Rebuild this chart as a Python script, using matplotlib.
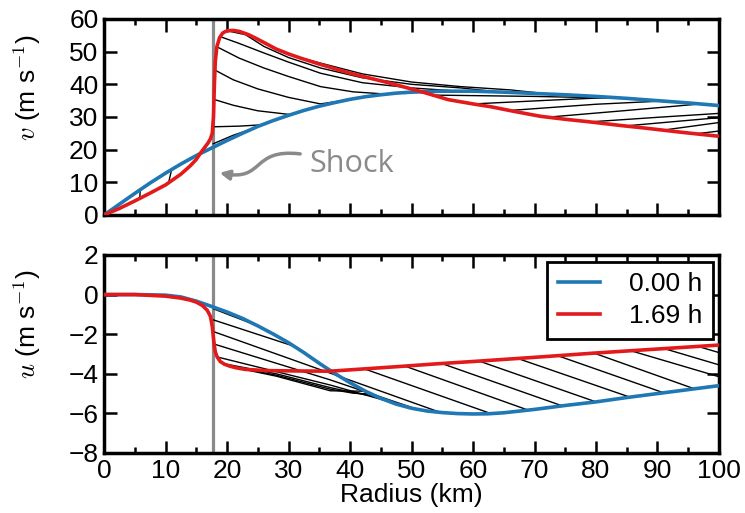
import matplotlib
matplotlib.use('Agg')
import matplotlib.pyplot as plt
from matplotlib.path import Path
from matplotlib.patches import FancyArrowPatch
from matplotlib.ticker import MultipleLocator

plt.rcParams['font.family'] = ['Liberation Sans', 'DejaVu Sans']
plt.rcParams['mathtext.fontset'] = 'cm'

# ---- data ----
# top panel: tangential wind v
r_v0 = [0, 2.5, 5, 7.5, 10, 12.5, 15, 17.5, 20, 22.5, 25, 27.5, 30, 32.5, 35, 37.5, 40,
        42.5, 45, 47.5, 50, 55, 60, 65, 70, 75, 80, 85, 90, 95, 100]
v0 = [0, 3.3, 6.6, 9.8, 12.8, 15.6, 18.2, 20.5, 22.8, 25.0, 27.1, 28.9, 30.5, 32.0, 33.3,
      34.4, 35.4, 36.2, 36.8, 37.3, 37.6, 37.9, 37.9, 37.6, 37.2, 36.8, 36.3, 35.7, 35.0, 34.3, 33.5]

r_v1 = [0, 2.5, 5, 7.5, 10, 12.5, 14, 15, 15.6, 16.3, 16.9, 17.3, 17.6, 17.8, 17.95, 18.1,
        18.35, 18.8, 19.3, 20, 21, 22, 23.5, 25, 26.5, 28, 30, 32, 35, 40, 46, 51.5, 56, 60,
        63, 67, 71, 75, 79, 84, 88, 94, 100]
v1 = [0, 2.0, 4.3, 6.7, 9.2, 12.5, 15.0, 17.0, 18.7, 20.5, 22.0, 23.3, 25.0, 30.0, 40.0, 47.0,
      51.5, 54.3, 55.7, 56.4, 56.5, 56.2, 55.2, 53.8, 52.3, 50.8, 49.3, 48.0, 46.2, 43.4, 40.6,
      37.8, 35.3, 34.0, 33.1, 31.6, 30.2, 29.3, 28.5, 27.4, 26.6, 25.3, 24.1]

# intermediate paths between the two times (r, v)
top_paths = [
    [(5.9, 7.7), (5.8, 5.0)],
    [(11.0, 13.9), (10.5, 9.9)],
    [(17.75, 21.8), (21.0, 24.4), (23.5, 26.0)],
    [(17.75, 27.0), (22.0, 27.2), (25.6, 27.6)],
    [(17.85, 35.4), (21.0, 33.6), (25.0, 31.9), (30.5, 30.7)],
    [(18.0, 44.4), (21.0, 41.4), (25.0, 38.6), (30.0, 36.0), (35.2, 34.0), (40.5, 35.5)],
    [(18.35, 51.5), (22.0, 48.0), (26.0, 45.0), (30.0, 42.4), (35.2, 39.3), (40.5, 37.7), (46.0, 37.0)],
    [(18.9, 54.6), (22.0, 52.5), (26.0, 49.6), (30.0, 46.8), (35.2, 43.4), (42.0, 40.5),
     (50.0, 38.9), (57.0, 38.0)],
    [(20.0, 56.4), (23.0, 55.2), (26.0, 51.6), (30.0, 48.2), (35.2, 45.0), (42.0, 42.0),
     (50.0, 40.0), (58.0, 38.9), (64.0, 37.7)],
    [(21.2, 56.5), (24.0, 54.8), (27.0, 51.6), (30.0, 49.1), (35.2, 46.5), (42.0, 43.2),
     (50.0, 40.7), (58.0, 39.3), (66.0, 38.3), (72.0, 37.1)],
    [(53.5, 36.7), (70.0, 36.3), (85.0, 35.7)],
    [(60.0, 34.0), (72.0, 35.1), (82.5, 36.0)],
    [(66.0, 32.0), (80.0, 33.9), (91.0, 34.9)],
    [(72.5, 30.0), (85.0, 32.0), (97.0, 34.0)],
    [(79.0, 28.5), (90.0, 29.9), (100.0, 31.1)],
    [(85.0, 27.3), (100.0, 29.8)],
    [(91.0, 26.0), (100.0, 28.3)],
    [(96.5, 24.9), (100.0, 25.7)],
]

# bottom panel: radial wind u
r_u0 = [0, 5, 10, 12.5, 15, 17.5, 20, 22.5, 25, 27.5, 30, 32.5, 35, 37.5, 40, 42.5, 45,
        47.5, 50, 52.5, 55, 57.5, 60, 62.5, 65, 70, 75, 80, 85, 90, 95, 100]
u0 = [0, 0, -0.03, -0.12, -0.33, -0.6, -0.88, -1.2, -1.58, -1.99, -2.43, -2.93, -3.47, -3.98,
      -4.45, -4.88, -5.24, -5.53, -5.74, -5.88, -5.96, -6.01, -6.03, -6.02, -5.97, -5.8, -5.6,
      -5.42, -5.2, -5.0, -4.8, -4.6]

r_u1 = [0, 5, 10, 12.5, 14, 15, 16, 16.8, 17.3, 17.6, 17.8, 17.95, 18.1, 18.4, 18.9, 19.6,
        20.5, 21.5, 23, 26.5, 32, 36.8, 42, 47.7, 54, 60, 70, 80, 90, 100]
u1 = [0, 0, -0.08, -0.18, -0.28, -0.38, -0.55, -0.8, -1.1, -1.6, -2.2, -2.6, -2.9, -3.15,
      -3.38, -3.52, -3.62, -3.7, -3.78, -3.84, -3.86, -3.87, -3.76, -3.64, -3.5, -3.38, -3.17,
      -2.95, -2.75, -2.55]

bot_paths = [
    [(17.8, -0.72), (25.0, -1.58)],
    [(17.8, -1.28), (30.8, -2.6)],
    [(17.8, -1.87), (36.8, -3.97), (54.5, -5.93)],
    [(17.9, -2.5), (36.8, -4.31), (50.5, -5.75)],
    [(18.4, -3.15), (36.8, -4.57), (46.5, -5.42)],
    [(19.3, -3.48), (28.0, -4.0), (36.8, -4.7), (41.0, -4.98), (44.0, -5.14)],
    [(20.5, -3.62), (28.0, -4.07), (36.8, -4.78), (40.5, -4.98), (43.2, -5.02)],
    [(22.0, -3.73), (28.0, -4.12), (36.8, -4.86), (42.5, -4.88)],
    [(42.5, -3.77), (63.0, -6.02)],
    [(49.0, -3.62), (69.0, -5.84)],
    [(55.0, -3.49), (74.5, -5.62)],
    [(61.0, -3.36), (80.0, -5.42)],
    [(67.3, -3.23), (85.5, -5.18)],
    [(73.8, -3.09), (91.0, -4.96)],
    [(79.7, -2.96), (96.0, -4.76)],
    [(85.7, -2.84), (100.0, -4.15)],
    [(91.1, -2.73), (100.0, -3.55)],
    [(96.6, -2.62), (100.0, -2.93)],
]

r_shock = 17.7
labels = ['0.00 h', '1.69 h']
blue = '#1f78b4'
red = '#e31a1c'
grey = '#8a8a8a'

fig = plt.figure(figsize=(7.45, 5.13), dpi=100)
ax1 = fig.add_axes([0.1396, 0.5809, 0.8255, 0.3821])
ax2 = fig.add_axes([0.1396, 0.117, 0.8255, 0.386])

for ax in (ax1, ax2):
    ax.axvline(r_shock, color=grey, lw=2.3, zorder=1)
    ax.set_xlim(0, 100)
    ax.xaxis.set_major_locator(MultipleLocator(10))
    ax.xaxis.set_minor_locator(MultipleLocator(5))
    ax.tick_params(which='both', direction='in', top=True, right=True, width=1.8,
                   labelsize=19, pad=4)
    ax.tick_params(which='major', length=9)
    ax.tick_params(which='minor', length=4.5)
    for s in ax.spines.values():
        s.set_linewidth(2.5)

# top panel
for p in top_paths:
    ax1.plot([q[0] for q in p], [q[1] for q in p], color='k', lw=1.0, zorder=2)
ax1.plot(r_v0, v0, color=blue, lw=2.6, zorder=3)
ax1.plot(r_v1, v1, color=red, lw=2.6, zorder=4)
ax1.set_ylim(0, 60)
ax1.yaxis.set_major_locator(MultipleLocator(10))
ax1.tick_params(labelbottom=False)
ax1.set_ylabel(r'$v$ (m s$^{\mathsf{-1}}$)', fontsize=19)
ax1.yaxis.set_label_coords(-0.1, 0.65)

ax1.text(33.4, 13.2, 'Shock', color=grey, fontsize=22, family=['Open Sans', 'DejaVu Sans'],
         ha='left', va='baseline')
verts = [(31.9, 18.7), (23.8, 20.5), (26.2, 10.1), (18.8, 12.9)]
codes = [Path.MOVETO, Path.CURVE4, Path.CURVE4, Path.CURVE4]
arr = FancyArrowPatch(path=Path(verts, codes), arrowstyle='-|>', mutation_scale=14,
                      color=grey, lw=2.5, zorder=5)
ax1.add_patch(arr)

# bottom panel
for p in bot_paths:
    ax2.plot([q[0] for q in p], [q[1] for q in p], color='k', lw=1.0, zorder=2)
ax2.plot(r_u0, u0, color=blue, lw=2.6, zorder=3, label=labels[0])
ax2.plot(r_u1, u1, color=red, lw=2.6, zorder=4, label=labels[1])
ax2.set_ylim(-8, 2)
ax2.yaxis.set_major_locator(MultipleLocator(2))
ax2.set_xlabel('Radius (km)', fontsize=19, labelpad=0)
ax2.set_ylabel(r'$u$ (m s$^{\mathsf{-1}}$)', fontsize=19)
ax2.yaxis.set_label_coords(-0.1, 0.65)

leg = ax2.legend(loc='upper right', bbox_to_anchor=(0.99, 0.965), borderaxespad=0,
                 fontsize=19, handlelength=1.6, handletextpad=1.1, borderpad=0.4,
                 labelspacing=0.3, fancybox=False, framealpha=1)
leg.get_frame().set_edgecolor('k')
leg.get_frame().set_linewidth(2.0)

fig.savefig('out.png', dpi=100)
